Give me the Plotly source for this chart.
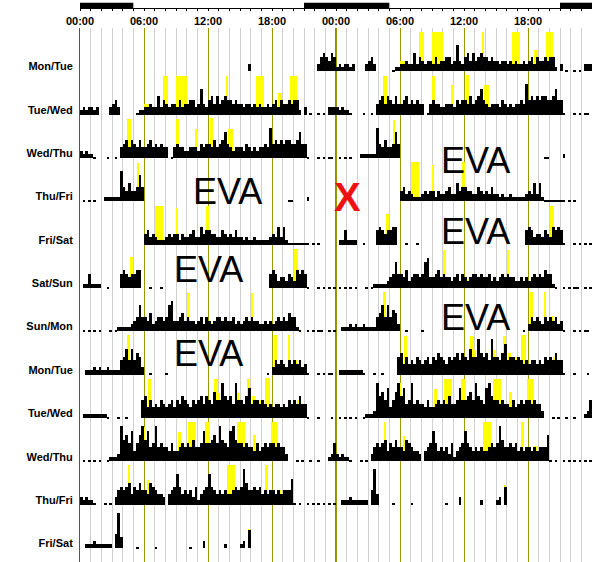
import plotly.graph_objects as go

# ---------------- data ----------------
row_labels = ["Mon/Tue", "Tue/Wed", "Wed/Thu", "Thu/Fri", "Fri/Sat", "Sat/Sun",
              "Sun/Mon", "Mon/Tue", "Tue/Wed", "Wed/Thu", "Thu/Fri", "Fri/Sat"]
hour_ticks = [0, 6, 12, 18, 24, 30, 36, 42, 48]
hour_tick_text = ["00:00", "06:00", "12:00", "18:00", "00:00", "06:00", "12:00", "18:00", "00:00"]
dark_periods = [(0, 5), (21, 29), (45, 48)]          # lights-off bars on the top axis
major_hours = [6, 12, 18, 30, 36, 42]

# activity level codes -> fraction of row height
level_height = {"0": 0.0, "1": 0.025, "2": 0.10, "3": 0.17, "4": 0.25, "5": 0.33,
                "6": 0.42, "7": 0.50, "8": 0.60, "9": 0.70, "A": 0.82}

# 15-minute activity codes per day (24 groups of 4 bins)
act_day00 = "0000 0000 0000 0000 0000 0000 0000 0000 0000 0000 0000 0000 0000 0000 0000 0003 0000 0000 0000 0000 0000 0000 0356 5465"
act_day01 = "2323 3230 0003 4530 0000 0122 3343 3635 4344 3534 4553 4843 5646 4565 5454 4344 3434 3343 4535 4454 5520 3010 0101 0333"
act_day02 = "3232 2100 0010 0104 5646 5464 4564 5454 4014 5443 3444 3545 5464 5685 4344 4354 3434 4549 5656 5665 5685 5100 0101 0110"
act_day03 = "0101 0100 0222 2229 5464 4585 0000 0000 0000 0000 0000 0000 0000 0000 0000 0000 0000 0000 0000 0011 0000 0200 0000 0000"
act_day04 = "0000 0000 0000 0000 0000 0000 4534 3222 3434 4243 3453 3645 5443 3543 4353 3232 2322 2223 4363 6211 1111 1101 0100 0000"
act_day05 = "0225 2222 0010 0005 6545 5660 0010 0010 0000 0000 0000 0000 0000 0000 0000 0000 0000 0005 6534 4354 3656 5100 0101 0101"
act_day06 = "0101 0101 0001 0122 2223 4585 5463 4554 5894 4564 5443 4535 4345 5454 4534 3454 5443 3434 3454 5465 5210 0101 0110 0101"
act_day07 = "0022 2323 2232 2225 6858 5763 0010 0000 1000 0000 0000 0000 0000 0000 0000 0000 0000 0010 3545 4354 5453 4100 0101 0110"
act_day08 = "0222 2222 2210 0010 0100 0006 7464 5465 4564 6576 5465 6757 6586 6A76 75A6 6579 5665 6545 4554 5465 6575 5100 0100 0010"
act_day09 = "0101 0101 0012 223A 7869 468A 7956 A565 5464 4565 6575 5696 6786 A765 9A76 6565 5464 5656 6565 5300 0101 0010 0100 0236"
act_day10 = "3232 2100 0101 0356 5674 6575 5476 5443 0456 9645 4536 2456 9654 5454 4565 6A75 5656 4545 5454 5558 1010 0101 0101 0101"
act_day11 = "0022 2322 2222 05A4 0000 0100 0000 1000 0000 0000 0100 0030 0000 0020 0000 2306 0000 0000 0000 0000 0000 0000 0000 0000"
act_day12 = "0000 0000 0000 0000 0000 0000 0000 0000 0000 0000 0000 0000 0000 0000 0000 0000 0000 0000 0000 0000 0000 0000 0000 0000"

# yellow bouts per day: (start hour, end hour, fraction of row height)
yel_day00 = [(22.7, 23.0, 0.30)]
yel_day01 = [(6.0, 6.5, 0.24), (7.8, 8.25, 0.9), (9.0, 10.0, 0.9), (13.65, 13.9, 0.9),
             (16.5, 17.25, 0.9), (18.55, 18.9, 0.5), (19.65, 20.3, 0.9)]
yel_day02 = [(4.4, 4.8, 0.9), (9.0, 9.25, 0.9), (10.75, 11.1, 0.68), (12.15, 12.5, 0.92),
             (13.9, 14.3, 0.68)]
yel_day03 = [(4.2, 4.35, 0.3), (5.4, 5.55, 0.88)]
yel_day04 = [(7.05, 7.8, 0.9), (9.0, 9.2, 0.85), (11.85, 12.05, 0.9), (15.05, 15.2, 0.15)]
yel_day05 = [(4.65, 4.95, 0.72), (20.1, 20.4, 0.9)]
yel_day06 = [(7.15, 7.5, 0.25), (10.0, 10.3, 0.88), (12.45, 12.6, 0.2), (16.0, 16.25, 0.88)]
yel_day07 = [(4.2, 4.4, 0.45), (4.4, 4.7, 0.92), (18.2, 18.45, 0.92), (19.5, 19.7, 0.92),
             (20.25, 20.45, 0.35)]
yel_day08 = [(6.4, 6.7, 0.9), (12.6, 12.9, 0.9), (12.9, 13.1, 0.57), (14.75, 14.9, 0.57),
             (15.7, 15.95, 0.9), (16.1, 16.4, 0.5), (16.8, 17.1, 0.42), (17.3, 17.8, 0.92),
             (20.3, 20.6, 0.42)]
yel_day09 = [(5.75, 6.05, 0.8), (9.2, 9.5, 0.68), (10.1, 10.9, 0.9), (11.7, 12.15, 0.9),
             (14.75, 15.45, 0.9), (16.2, 16.5, 0.6), (17.9, 18.55, 0.9)]
yel_day10 = [(4.5, 4.7, 0.92), (5.0, 5.2, 0.42), (6.35, 6.5, 0.58), (13.8, 14.5, 0.92),
             (17.3, 17.6, 0.92), (18.65, 18.8, 0.35)]
yel_day11 = [(15.8, 15.95, 0.45)]
yel_day12 = []

eva_labels = [(13.8, -3.77), (37.1, -3.06), (37.1, -4.69), (12.05, -5.58), (37.1, -6.68), (12.0, -7.51)]
missing_mark = (25.08, -3.90)

activity_days = [act_day00, act_day01, act_day02, act_day03, act_day04, act_day05, act_day06,
                 act_day07, act_day08, act_day09, act_day10, act_day11, act_day12]
yellow_days = [yel_day00, yel_day01, yel_day02, yel_day03, yel_day04, yel_day05, yel_day06,
               yel_day07, yel_day08, yel_day09, yel_day10, yel_day11, yel_day12]

# ---------------- build bars (double plotted) ----------------
BIN = 0.25
bx, by, bb = [], [], []
yx, yy, yb, yw = [], [], [], []
for r in range(len(row_labels)):
    base = -(r + 1)
    for half, day in ((0, r), (1, r + 1)):
        codes = activity_days[day].replace(" ", "")
        for i, c in enumerate(codes):
            h = level_height[c]
            if h > 0:
                bx.append(half * 24 + i * BIN + BIN / 2)
                by.append(h)
                bb.append(base)
        for (s, e, h) in yellow_days[day]:
            yx.append(half * 24 + (s + e) / 2)
            yw.append(e - s)
            yy.append(h)
            yb.append(base)

fig = go.Figure()
fig.add_trace(go.Bar(x=yx, y=yy, base=yb, width=yw, marker=dict(color="#ffff00", line=dict(width=0)),
                     showlegend=False, hoverinfo="skip"))
fig.add_trace(go.Bar(x=bx, y=by, base=bb, width=BIN, marker=dict(color="#000000", line=dict(width=0)),
                     showlegend=False, hoverinfo="skip"))
# helper (empty) trace so the top hour-tick axis is rendered
fig.add_trace(go.Scatter(x=[None], y=[None], xaxis="x2", yaxis="y", showlegend=False, hoverinfo="skip"))

W, H = 592, 562
TOP = 28
fig.update_layout(
    width=W, height=H, margin=dict(l=80, r=0, t=0, b=0),
    paper_bgcolor="white", plot_bgcolor="white", barmode="overlay", bargap=0,
    xaxis=dict(range=[0, 48], side="top", tickvals=hour_ticks, ticktext=hour_tick_text,
               showgrid=True, gridcolor="#999900", gridwidth=1, ticks="", zeroline=False,
               showline=False, tickfont=dict(family="Liberation Sans", size=11, color="black", weight="bold"),
               minor=dict(dtick=1, tick0=0, showgrid=True, gridcolor="#d0d0d0", gridwidth=1)),
    xaxis2=dict(range=[0, 48], anchor="free", overlaying="x", position=1 - 8 / H, side="bottom",
                showline=True, linecolor="black", linewidth=1, ticks="outside", dtick=1, tick0=0,
                ticklen=2, tickcolor="black", tickwidth=1, showticklabels=False, showgrid=False, zeroline=False),
    yaxis=dict(domain=[0, 1 - TOP / H], range=[-12.32, 0], tickvals=[-(k + 1) + 0.11 for k in range(len(row_labels))],
               ticktext=row_labels, showgrid=False, zeroline=False, showline=True, linecolor="#555555",
               linewidth=1, ticks="", ticklabelstandoff=4,
               tickfont=dict(family="Liberation Sans", size=11, color="black", weight="bold")),
)

shapes = []
for (s, e) in dark_periods:
    shapes.append(dict(type="rect", xref="x", yref="paper", x0=s, x1=e, y0=1 - 8 / H, y1=1 - 2.7 / H,
                       fillcolor="black", line=dict(width=0), layer="above"))
shapes.append(dict(type="line", xref="x", yref="y domain", x0=24, x1=24, y0=0, y1=1,
                   line=dict(color="black", width=1), layer="below"))
fig.update_layout(shapes=shapes)

ann = []
for (x, y) in eva_labels:
    ann.append(dict(x=x, y=y, xref="x", yref="y", text="EVA", showarrow=False,
                    font=dict(family="Liberation Sans", size=36, color="black")))
ann.append(dict(x=missing_mark[0], y=missing_mark[1], xref="x", yref="y", text="X", showarrow=False,
                font=dict(family="Liberation Sans", size=40, color="#ee1111", weight="bold")))
fig.update_layout(annotations=ann)

fig.write_html("out.html")
